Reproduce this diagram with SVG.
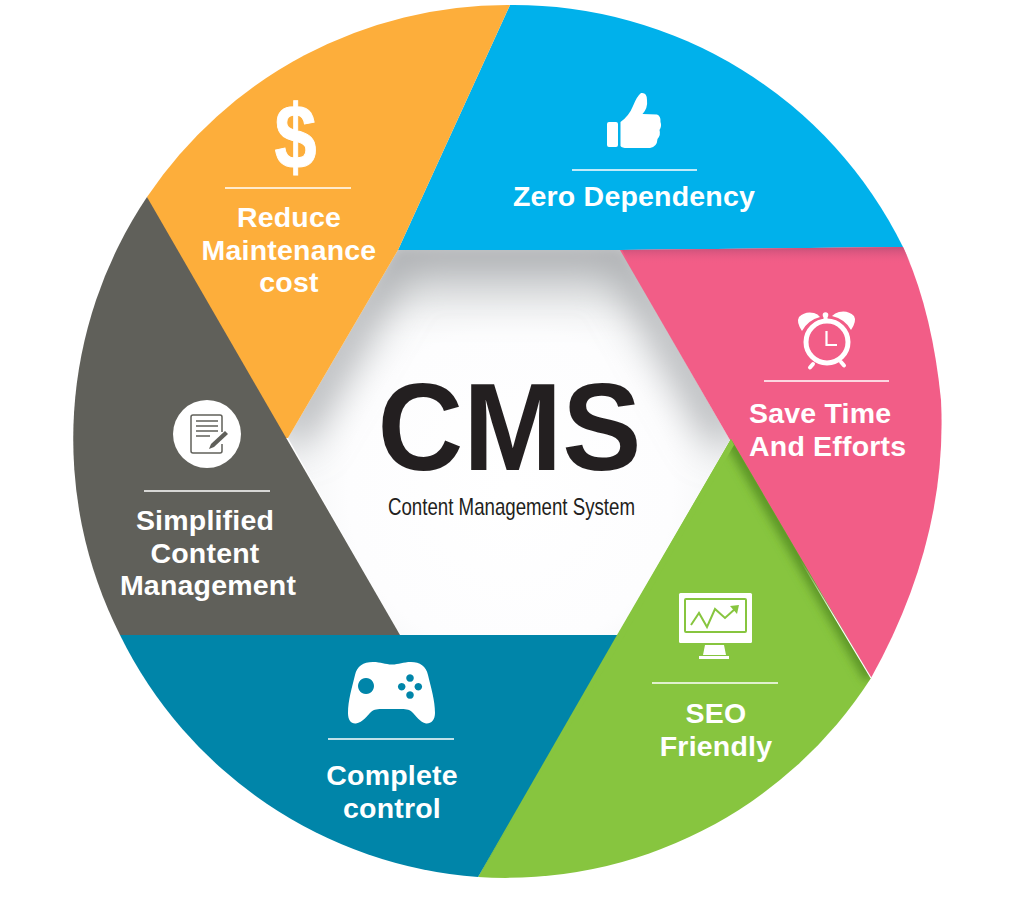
<svg xmlns="http://www.w3.org/2000/svg" width="1024" height="901" viewBox="0 0 1024 901">
<style>
.t{font-family:"Liberation Sans",Arial,sans-serif;font-weight:700;font-size:28.5px;fill:#fff;text-anchor:middle;letter-spacing:.2px}
.d{stroke:#fff;stroke-width:1.6;fill:none}
.w{fill:#fff}
</style>
<defs>
<radialGradient id="hexG" gradientUnits="userSpaceOnUse" cx="510" cy="490" r="250">
<stop offset="0" stop-color="#fff"/><stop offset=".65" stop-color="#fdfdfe"/><stop offset="1" stop-color="#f0f2f3"/>
</radialGradient>
<linearGradient id="topS" gradientUnits="userSpaceOnUse" x1="0" y1="250" x2="0" y2="350">
<stop offset="0" stop-color="#c8cacc"/><stop offset=".5" stop-color="#e2e4e5" stop-opacity=".8"/><stop offset="1" stop-color="#fff" stop-opacity="0"/>
</linearGradient>
<linearGradient id="pS" gradientUnits="userSpaceOnUse" x1="0" y1="248" x2="0" y2="264">
<stop offset="0" stop-color="#c9517a"/><stop offset="1" stop-color="#f25d87" stop-opacity="0"/>
</linearGradient>
<linearGradient id="seam" gradientUnits="userSpaceOnUse" x1="800" y1="559" x2="871" y2="678">
<stop offset="0" stop-color="#fff" stop-opacity="0"/><stop offset=".5" stop-color="#fff"/><stop offset="1" stop-color="#fff"/>
</linearGradient>
<clipPath id="hexC"><path d="M398 250H621L730 440 617 635H400L288 438Z"/></clipPath>
<clipPath id="greenC"><path d="M731 439L871 678A434 434 0 0 1 478 877Z"/></clipPath>
<filter id="b1" x="-30%" y="-30%" width="160%" height="160%"><feGaussianBlur stdDeviation="20"/></filter>
<filter id="b2" x="-30%" y="-30%" width="160%" height="160%"><feGaussianBlur stdDeviation="5"/></filter>
</defs>
<rect width="1024" height="901" fill="#fff"/>
<g id="center">
<path d="M398 250H621L730 440 617 635H400L288 438Z" fill="url(#hexG)"/>
<g clip-path="url(#hexC)">
<path d="M398 250H621L700 390H320Z" fill="url(#topS)" filter="url(#b2)"/>
<path d="M288 438L398 250H621L730 440" fill="none" stroke="#a9abae" stroke-width="34" filter="url(#b1)"/>
</g>
<text x="377.500" y="470" font-family="'Liberation Sans',Arial,sans-serif" font-weight="700" font-size="125" fill="#231f20" textLength="264" lengthAdjust="spacingAndGlyphs">CMS</text>
<text x="388" y="515" font-family="'Liberation Sans',Arial,sans-serif" font-size="24" fill="#231f20" textLength="247" lengthAdjust="spacingAndGlyphs">Content Management System</text>
</g>
<g id="zero-dependency">
<path d="M510 5A434 434 0 0 1 903 247L620 250 398 250Z" fill="#00b1eb"/>
<path d="M607 124a2 2 0 0 1 2-2h7a2 2 0 0 1 2 2v21a2 2 0 0 1-2 2h-7a2 2 0 0 1-2-2ZM620.500 146V122Q629 116 633 106 637 96 641 93 647 92 647 100 648 108 642.500 114L657 114.500Q661 116 660.500 122 662 126 659.500 130 661 135 657.500 139 657 147 650 148L627 148Q622 148 620.500 146Z" class="w"/>
<line x1="572" y1="170" x2="697" y2="170" class="d"/>
<text x="634" y="206" class="t">Zero Dependency</text>
</g>
<g id="reduce-maintenance">
<path d="M147 197A434 434 0 0 1 510 5L398 250 288 438 278 438 150 205Z" fill="#fdae3b"/>
<text transform="translate(295.500 168) scale(.84 1)" font-family="'Liberation Sans',Arial,sans-serif" font-weight="700" font-size="90" fill="#fff" stroke="#fff" stroke-width="1" text-anchor="middle">$</text>
<line x1="225" y1="188" x2="351" y2="188" class="d"/>
<text x="289" y="227" class="t">Reduce</text>
<text x="289" y="260" class="t">Maintenance</text>
<text x="289" y="292" class="t">cost</text>
</g>
<g id="save-time">
<path d="M620 250L903 247Q932 310 941 400 948 540 871 678L730 440Z" fill="#f25d87"/>
<path d="M622 250L903 247 911 264 630 264Z" fill="url(#pS)"/>
<g fill="none" stroke="#fff">
<circle cx="827" cy="342" r="21" stroke-width="5"/>
<path d="M826.500 331V345H837" stroke-width="2.200"/>
<path d="M825.500 321V316M813 364l-3 3.500M841 362l3 3.500" stroke-width="4" stroke-linecap="round"/>
</g>
<circle cx="825.500" cy="315" r="2.800" class="w"/>
<path d="M802 331Q796 322 799 317 805 311 814 313 818 314 820 317 808 320 802 331ZM851 330Q857 321 854 316 848 310 839 312 835 313 832 316 845 319 851 330Z" class="w"/>
<line x1="764" y1="381" x2="889" y2="381" class="d"/>
<text x="749" y="423" class="t" style="text-anchor:start">Save Time</text>
<text x="749" y="456" class="t" style="text-anchor:start">And Efforts</text>
</g>
<g id="seo-friendly">
<path d="M731 439L871 678A434 434 0 0 1 478 877Z" fill="#87c53f"/>
<g clip-path="url(#greenC)">
<path d="M731 439L871 678" fill="none" stroke="#5c9428" stroke-width="14" filter="url(#b2)"/>
</g>
<path d="M800 559.500L871 678" fill="none" stroke="url(#seam)" stroke-width="1.200"/>
<rect x="679" y="593" width="73" height="50" rx="1.500" class="w"/>
<rect x="685" y="599" width="61" height="33" rx="1" fill="none" stroke="#87c53f" stroke-width="2"/>
<path d="M691 625L699 613 707 627 715 609 725 618 736 608" fill="none" stroke="#87c53f" stroke-width="2"/>
<path d="M730 606L739 605 737 614Z" fill="#87c53f"/>
<path d="M705 645H724L726 655H703ZM699 656H729V659H699Z" class="w"/>
<line x1="652" y1="683" x2="778" y2="683" class="d"/>
<text x="716" y="723" class="t">SEO</text>
<text x="716" y="756" class="t">Friendly</text>
</g>
<g id="complete-control">
<path d="M120 635H622L478 877A434 434 0 0 1 120 635Z" fill="#0085a9"/>
<path d="M617 635L731 439 734 445 622 640 478 877Z" fill="#87c53f"/>
<path fill-rule="evenodd" d="M373 662C381 662 385 664.500 392 664.500 399 664.500 403 662 411 662 420 662 426 666 428 675 431 688 435 700 435 713 435 720 431 724 426 723.500 420 722 416 716 412 712 409 709 405 709 400 709H383C378 709 374 709 371 712 367 716 363 722 356 723.500 351 724 348 720 348 713 348 700 352 688 355 675 357 666 363 662 373 662ZM366 678a8 8 0 1 0 .01 0ZM410 674.200a3.800 3.800 0 1 0 .01 0ZM401.700 682.900a3.800 3.800 0 1 0 .01 0ZM418.300 682.900a3.800 3.800 0 1 0 .01 0ZM410 691.200a3.800 3.800 0 1 0 .01 0Z" class="w"/>
<line x1="328" y1="739" x2="454" y2="739" class="d"/>
<text x="392" y="785" class="t">Complete</text>
<text x="392" y="818" class="t">control</text>
</g>
<g id="simplified-content">
<path d="M147 197L400 635H120A434 434 0 0 1 147 197Z" fill="#60605a"/>
<circle cx="207" cy="434" r="34" class="w"/>
<path d="M222 432V417a2 2 0 0 0-2-2H193a2 2 0 0 0-2 2V451a2 2 0 0 0 2 2H220a2 2 0 0 0 2-2V444" fill="none" stroke="#60605a" stroke-width="1.500"/>
<path d="M196 421H218M196 426H218M196 431H218M196 436H210" stroke="#60605a" stroke-width="1.300" fill="none"/>
<path d="M225 431L228 434 214 447 209 449 211 444Z" fill="#60605a"/>
<line x1="144" y1="491" x2="270" y2="491" class="d"/>
<text x="205" y="530" class="t">Simplified</text>
<text x="205" y="563" class="t">Content</text>
<text x="208" y="595" class="t">Management</text>
</g>
</svg>
